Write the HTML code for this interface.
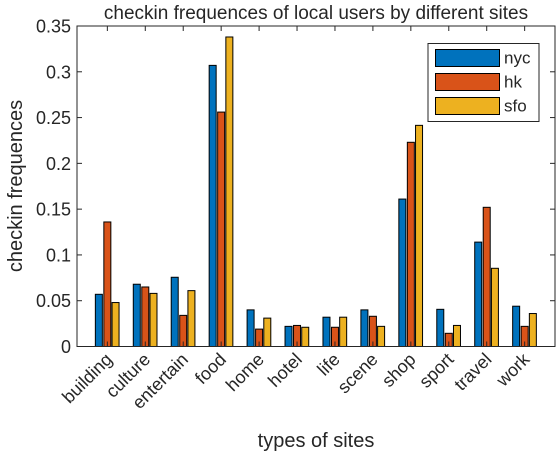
<!DOCTYPE html>
<html><head><meta charset="utf-8"><style>
html,body{margin:0;padding:0;background:#fff}
svg text{font-family:"Liberation Sans",Arial,sans-serif;fill:#262626}
</style></head><body>
<svg id="chart" width="560" height="455" xmlns="http://www.w3.org/2000/svg"></svg>
<script>
const categories=["building","culture","entertain","food","home","hotel","life","scene","shop","sport","travel","work"];
const nyc=[0.057,0.068,0.0756,0.307,0.040,0.022,0.032,0.040,0.161,0.0406,0.114,0.044];
const hk=[0.136,0.065,0.034,0.256,0.019,0.023,0.021,0.033,0.223,0.0144,0.152,0.022];
const sfo=[0.048,0.058,0.061,0.338,0.031,0.021,0.032,0.022,0.2415,0.023,0.0854,0.036];
const seriesNames=["nyc","hk","sfo"];
const yTicks=[0,0.05,0.1,0.15,0.2,0.25,0.3,0.35];
const yTickLabels=["0","0.05","0.1","0.15","0.2","0.25","0.3","0.35"];

const svg=document.getElementById('chart');
const NS="http://www.w3.org/2000/svg";
const L=77,R=555,T=26,B=346.5;
const xmin=0.2,xmax=12.8,ymax=0.35;
const xs=i=>L+(i+1-xmin)/(xmax-xmin)*(R-L);
const ys=v=>B-v/ymax*(B-T);
function mk(tag,attrs,parent){const e=document.createElementNS(NS,tag);for(const k in attrs)e.setAttribute(k,attrs[k]);(parent||svg).appendChild(e);return e;}
const colors=["#0072BD","#D95319","#EDB120"];
const data=[nyc,hk,sfo];
const offs=[-8.5,0,8.2];
const bw=7;
mk('rect',{x:L,y:T,width:R-L,height:B-T,fill:'#fff'});
data.forEach((s,si)=>{s.forEach((v,i)=>{
  const r=mk('rect',{x:xs(i)+offs[si]-bw/2,y:ys(v),width:bw,height:B-ys(v),fill:colors[si],stroke:'#000','stroke-width':1});
  
  
});});
mk('rect',{x:L,y:T,width:R-L,height:B-T,fill:'none',stroke:'#262626','stroke-width':1,});
yTicks.forEach((v,k)=>{
  const y=ys(v);
  mk('line',{x1:L,x2:L+5,y1:y,y2:y,stroke:'#262626'});
  mk('line',{x1:R,x2:R-5,y1:y,y2:y,stroke:'#262626'});
  const t=mk('text',{x:L-6,y:y+6.5,'text-anchor':'end','font-size':18});
  t.textContent=yTickLabels[k];
  
  
});
categories.forEach((c,i)=>{
  const x=xs(i);
  mk('line',{x1:x,x2:x,y1:B,y2:B-5,stroke:'#262626'});
  mk('line',{x1:x,x2:x,y1:T,y2:T+5,stroke:'#262626'});
  const t=mk('text',{x:x+6,y:B+14,'text-anchor':'end','font-size':18,transform:`rotate(-45 ${x+6} ${B+14})`});
  t.textContent=c;
  
  
});
const tt=mk('text',{x:316,y:19,'text-anchor':'middle','font-size':19,});
tt.textContent="checkin frequences of local users by different sites";
const xl=mk('text',{x:316,y:447,'text-anchor':'middle','font-size':20,});
xl.textContent="types of sites";
const yl=mk('text',{x:22,y:186,'text-anchor':'middle','font-size':20,transform:'rotate(-90 22 186)',});
yl.textContent="checkin frequences";
const lg=mk('g',{});
mk('rect',{x:428,y:43.5,width:111,height:78,fill:'#fff',stroke:'#262626'},lg);
seriesNames.forEach((n,si)=>{
  const y0=49.5+si*24;
  const g=mk('g',{},lg);
  
  
  mk('rect',{x:435.5,y:y0,width:64,height:17,fill:colors[si],stroke:'#000'},g);
  const t=mk('text',{x:504,y:y0+14,'font-size':17},g);
  t.textContent=n;
});
</script>
</body></html>
